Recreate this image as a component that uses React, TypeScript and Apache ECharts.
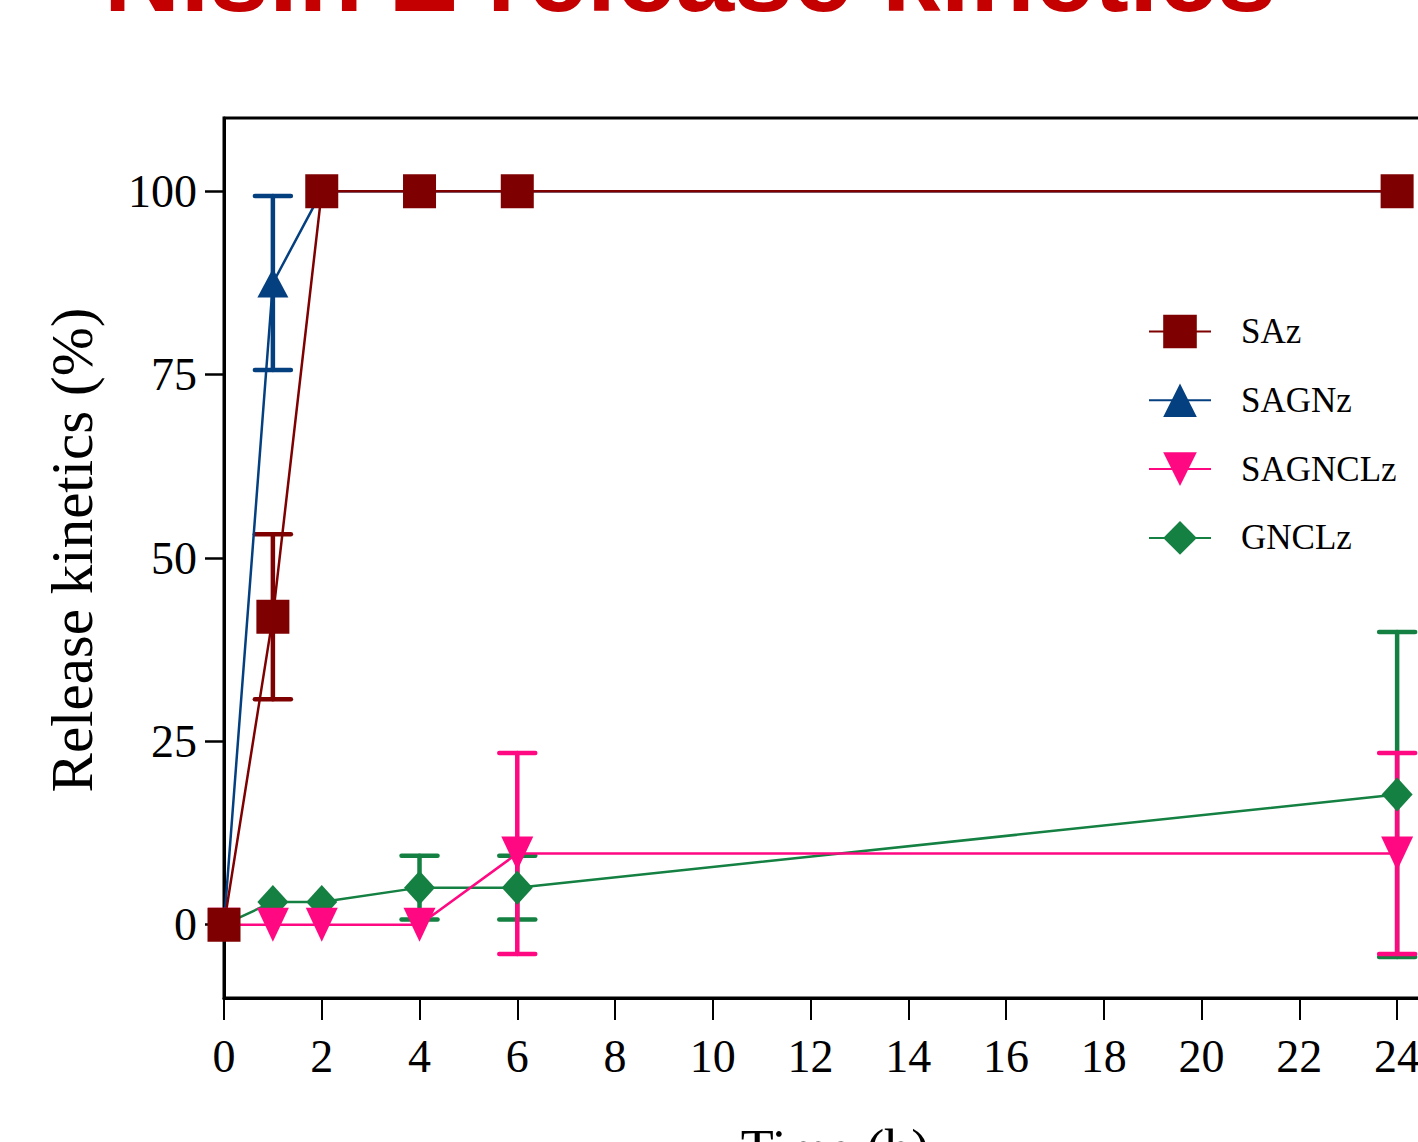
import React, { useEffect, useRef } from "react";
import * as echarts from "echarts";

const titleText = "Nisin Z release kinetics";
const timePoints = [0, 1, 2, 4, 6, 24];
const xTicks = [0, 2, 4, 6, 8, 10, 12, 14, 16, 18, 20, 22, 24];
const yTicks = [0, 25, 50, 75, 100];

const sazMean = [0, 42.0, 100, 100, 100, 100];
const sazSd = [0, 11.25, 0, 0, 0, 0];
const sagnzMean = [0, 87.5, 100, 100, 100, 100];
const sagnzSd = [0, 11.85, 0, 0, 0, 0];
const sagnclzMean = [0, 0, 0, 0, 9.7, 9.7];
const sagnclzSd = [0, 0, 0, 0, 13.7, 13.7];
const gnclzMean = [0, 3.1, 3.1, 5.05, 5.05, 17.75];
const gnclzSd = [0, 0, 0, 4.35, 4.35, 22.15];

const SERIF = '"Liberation Serif", "Times New Roman", serif';

function pairs(mean: number[]) {
  return timePoints.map((t, i) => [t, mean[i]]);
}
function errs(mean: number[], sd: number[]) {
  const out: number[][] = [];
  timePoints.forEach((t, i) => {
    if (sd[i] > 0) out.push([t, mean[i] - sd[i], mean[i] + sd[i]]);
  });
  return out;
}

function errSeries(name: string, color: string, data: number[][]) {
  return {
    type: "custom",
    name,
    data,
    encode: { x: 0, y: [1, 2] },
    clip: false,
    renderItem: (params: any, api: any) => {
      const x = api.value(0);
      const lo = api.coord([x, api.value(1)]);
      const hi = api.coord([x, api.value(2)]);
      const hw = 18;
      const st = { stroke: color, lineWidth: 4.5, lineCap: "round" };
      return {
        type: "group",
        children: [
          { type: "line", shape: { x1: lo[0], y1: lo[1], x2: hi[0], y2: hi[1] }, style: st },
          { type: "line", shape: { x1: lo[0] - hw, y1: lo[1], x2: lo[0] + hw, y2: lo[1] }, style: st },
          { type: "line", shape: { x1: hi[0] - hw, y1: hi[1], x2: hi[0] + hw, y2: hi[1] }, style: st },
        ],
      };
    },
  };
}

const C_SAZ = "#7f0000";
const C_SAGNZ = "#043f80";
const C_SAGNCLZ = "#ff0882";
const C_GNCLZ = "#148042";

export default function App() {
  const ref = useRef<HTMLDivElement>(null);
  useEffect(() => {
    if (!ref.current) return;
    const chart = echarts.init(ref.current, null, { renderer: "svg" });
    chart.setOption({
      animation: false,
      backgroundColor: "#ffffff",
      graphic: [
        {
          type: "text",
          x: 690,
          y: -26,
          style: {
            text: titleText,
            font: 'bold 106px "Liberation Sans", Arial, sans-serif',
            fill: "#c40000",
            align: "center",
            verticalAlign: "middle",
          },
        },
      ],
      grid: {
        left: 224,
        top: 118,
        right: -28,
        bottom: 144,
        outerBoundsMode: "none",
        containLabel: false,
        show: true,
        borderColor: "#000",
        borderWidth: 3,
      },
      legend: {
        data: ["SAz", "SAGNz", "SAGNCLz", "GNCLz"],
        orient: "vertical",
        left: 1148,
        top: 314,
        padding: 0,
        itemWidth: 62,
        itemHeight: 42,
        itemGap: 33.8,
        textStyle: {
          fontFamily: SERIF,
          fontSize: 35,
          color: "#000",
          padding: [0, 0, 0, 25],
        },
      },
      xAxis: {
        type: "value",
        min: 0,
        max: 25,
        name: "Time (h)",
        nameLocation: "middle",
        nameGap: 124,
        nameTextStyle: { fontFamily: SERIF, fontSize: 54, color: "#000" },
        axisLine: { show: true, onZero: false, lineStyle: { color: "#000", width: 3 } },
        axisTick: { show: true, length: 22, customValues: xTicks, lineStyle: { color: "#000", width: 2 } },
        axisLabel: { customValues: xTicks, margin: 35, fontFamily: SERIF, fontSize: 46, color: "#000" },
        splitLine: { show: false },
      },
      yAxis: {
        type: "value",
        min: -10,
        max: 110,
        name: "Release kinetics (%)",
        nameLocation: "middle",
        nameGap: 123,
        nameTextStyle: { fontFamily: SERIF, fontSize: 59, color: "#000", padding: [0, 0, 0, 16] },
        axisLine: { show: true, onZero: false, lineStyle: { color: "#000", width: 3 } },
        axisTick: { show: true, length: 19, customValues: yTicks, lineStyle: { color: "#000", width: 2.5 } },
        axisLabel: { customValues: yTicks, margin: 27, fontFamily: SERIF, fontSize: 46, color: "#000" },
        splitLine: { show: false },
      },
      series: [
        {
          type: "line",
          name: "GNCLz",
          data: pairs(gnclzMean),
          symbol: "diamond",
          symbolSize: [31, 34],
          itemStyle: { color: C_GNCLZ },
          lineStyle: { color: C_GNCLZ, width: 2.5 },
        },
        errSeries("GNCLz err", C_GNCLZ, errs(gnclzMean, gnclzSd)),
        {
          type: "line",
          name: "SAGNCLz",
          data: pairs(sagnclzMean),
          symbol: "triangle",
          symbolRotate: 180,
          symbolSize: [32, 34],
          itemStyle: { color: C_SAGNCLZ },
          lineStyle: { color: C_SAGNCLZ, width: 2.5 },
        },
        errSeries("SAGNCLz err", C_SAGNCLZ, errs(sagnclzMean, sagnclzSd)),
        {
          type: "line",
          name: "SAGNz",
          data: pairs(sagnzMean),
          symbol: "triangle",
          symbolSize: [31, 29],
          itemStyle: { color: C_SAGNZ },
          lineStyle: { color: C_SAGNZ, width: 2.5 },
        },
        errSeries("SAGNz err", C_SAGNZ, errs(sagnzMean, sagnzSd)),
        errSeries("SAz err", C_SAZ, errs(sazMean, sazSd)),
        {
          type: "line",
          name: "SAz",
          data: pairs(sazMean),
          symbol: "rect",
          symbolSize: [33, 34],
          itemStyle: { color: C_SAZ },
          lineStyle: { color: C_SAZ, width: 2.5 },
        },
      ],
    });
    return () => chart.dispose();
  }, []);
  return (
    <div
      ref={ref}
      style={{ position: "fixed", left: 0, top: 0, width: 1418, height: 1142, background: "#fff" }}
    />
  );
}
